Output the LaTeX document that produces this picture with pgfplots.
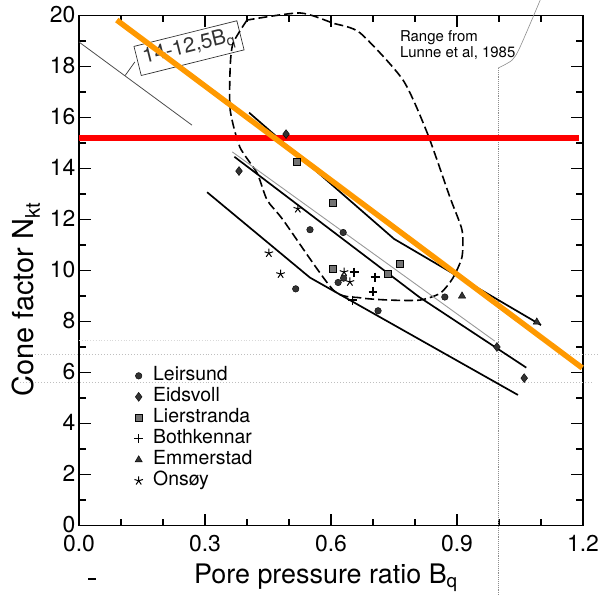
\documentclass[border=0pt]{standalone}
\usepackage{fontspec}
\setmainfont{TeX Gyre Heros}
\usepackage{pgfplots}
\pgfplotsset{compat=1.18}
\definecolor{myorange}{RGB}{255,153,0}
\definecolor{myred}{RGB}{255,0,0}
\pgfplotsset{legmark/.style={legend image code/.code={\draw[mark repeat=2,mark phase=2,##1] plot coordinates {(0bp,0bp)(4bp,0bp)(8bp,0bp)};}}}
\begin{document}
\begin{tikzpicture}
\useasboundingbox (-79bp,-70.5bp) rectangle (532bp,525.5bp);
\begin{axis}[
  at={(0,0)}, anchor=south west,
  scale only axis, width=504bp, height=510bp,
  xmin=0, xmax=1.2, ymin=0, ymax=20,
  xtick={0,0.3,0.6,0.9,1.2},
  xticklabels={0.0,0.3,0.6,0.9,1.2},
  minor xtick={0.1,0.2,0.4,0.5,0.7,0.8,1.0,1.1},
  ytick={0,2,...,20},
  minor ytick={1,3,...,19},
  tick align=inside,
  major tick length=12bp, minor tick length=7bp,
  every tick/.style={black, line width=1.1pt},
  axis line style={line width=1.4pt},
  clip=false,
  /pgf/number format/assume math mode=true,
  ticklabel style={font=\fontsize{23}{26}\selectfont},
  xticklabel style={yshift=-6bp},
  yticklabel style={yshift=1bp},
  label style={font=\fontsize{27}{30}\selectfont},
  xlabel={Pore pressure ratio B\textsubscript{q}},
  ylabel={Cone factor N\textsubscript{kt}},
  xlabel style={at={(axis description cs:0.49,-0.103)}, anchor=center},
  ylabel style={font=\fontsize{29}{32}\selectfont, at={(axis description cs:-0.105,0.443)}, anchor=center},
  legend style={at={(axis cs:0.131,6.21)}, anchor=north west, draw=none, fill=none,
    font=\fontsize{19.5}{22}\selectfont, inner sep=0pt, row sep=4bp, column sep=10bp,
    nodes={inner sep=0pt, text height=13bp, text depth=4bp}},
  legend cell align=left,
]
% scan artefact lines
\addplot[black!25, dotted, line width=1pt, forget plot] coordinates {(-0.14,6.69)(1.24,6.69)};
\addplot[black!25, dotted, line width=1pt, forget plot] coordinates {(-0.14,5.59)(1.22,5.59)};
\addplot[black!15, dotted, line width=0.8pt, forget plot] coordinates {(0,7.24)(0.8,7.24)};
\addplot[black!45, densely dotted, line width=0.9pt, forget plot] coordinates {(0.998,17.94)(0.998,-2.77)};
\addplot[black!45, line width=0.6pt, smooth, forget plot] coordinates {(0.998,17.94)(1.031,18.25)(1.05,18.76)(1.098,20.6)};
% gray reference line and annotation
\addplot[black!70, line width=0.8pt, forget plot] coordinates {(0,18.96)(0.269,15.7)};
\addplot[black!80, line width=0.7pt, forget plot] coordinates {(0.133,18.18)(0.11,17.65)};
\node[draw=black!80, line width=0.7pt, rotate=14, minimum width=106bp, minimum height=30bp, font=\fontsize{21}{23}\selectfont, text=black!80] at (axis cs:0.262,18.72) {14-12,5B\textsubscript{q}};
% Lunne range
\addplot[black, line width=1.6pt, dash pattern=on 9bp off 4bp, smooth, tension=0.4, forget plot] coordinates {
(0.40,19.82)(0.367,18.92)(0.36,17.99)(0.36,16.29)(0.383,14.84)(0.424,13.82)(0.448,12.76)(0.486,11.98)(0.605,9.24)(0.669,8.93)(0.74,8.84)(0.812,8.84)(0.86,9.11)(0.89,9.7)(0.912,10.54)(0.912,11.58)(0.883,12.88)(0.829,15.4)(0.771,17.48)(0.669,19.32)(0.605,19.7)(0.526,20.1)(0.40,19.82)};
\node[anchor=north west, align=left, inner sep=0pt, font=\fontsize{15}{16.7}\selectfont] at (axis cs:0.764,19.43) {Range from\\Lunne et al, 1985};
% trend lines
\addplot[black!40, line width=0.9pt, forget plot] coordinates {(0.365,14.65)(0.99,7.23)};
\addplot[black, line width=1.7pt, forget plot] coordinates {(0.405,16.19)(0.75,11.24)(1.10,7.86)};
\addplot[black, line width=1.7pt, forget plot] coordinates {(0.37,14.46)(0.81,8.96)(1.065,6.19)};
\addplot[black, line width=1.7pt, forget plot] coordinates {(0.305,13.07)(0.55,9.72)(1.045,5.12)};
% data
\addplot[only marks, mark=*, mark size=3.3, black, fill=black!80, legmark] coordinates {(0.55,11.6)(0.629,11.49)(0.516,9.28)(0.617,9.53)(0.63,9.7)(0.712,8.42)(0.871,8.96)};
\addlegendentry{Leirsund}
\addplot[only marks, mark=diamond*, mark size=4.5, black, fill=black!80, legmark] coordinates {(0.493,15.35)(0.381,13.9)(0.995,7.0)(1.06,5.78)};
\addlegendentry{Eidsvoll}
\addplot[only marks, mark=square*, mark size=3.5, black, mark options={fill=black!55}, legmark] coordinates {(0.519,14.26)(0.605,12.67)(0.605,10.06)(0.736,9.86)(0.764,10.26)};
\addlegendentry{Lierstranda}
\addplot[only marks, mark=+, mark size=4.5, black, line width=1.3pt, legmark] coordinates {(0.655,9.94)(0.705,9.74)(0.70,9.16)(0.652,8.84)};
\addlegendentry{Bothkennar}
\addplot[only marks, mark=triangle*, mark size=4.2, black, fill=black!80, legmark] coordinates {(0.912,9.0)(1.09,7.98)};
\addlegendentry{Emmerstad}
\addplot[only marks, mark=star, mark size=4.5, black, line width=1pt, legmark] coordinates {(0.452,10.68)(0.48,9.86)(0.631,9.94)(0.521,12.42)(0.645,9.55)};
\addlegendentry{Onsøy}
% overlays
\addplot[myred, line width=5.5pt, forget plot] coordinates {(0,15.2)(1.19,15.2)};
\addplot[myorange, line width=5.5pt, forget plot] coordinates {(0.09,19.82)(1.198,6.18)};
\node[inner sep=0pt] at (axis cs:0.031,-2.1) {\rule{8bp}{1.5bp}};
\end{axis}
\end{tikzpicture}
\end{document}
